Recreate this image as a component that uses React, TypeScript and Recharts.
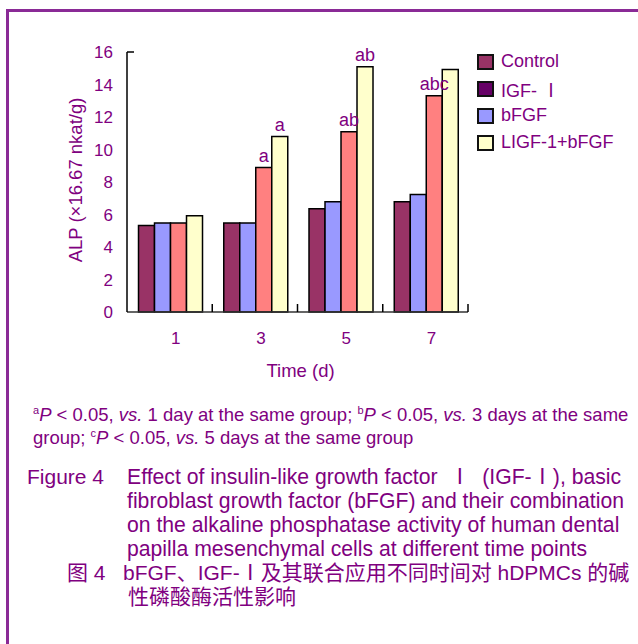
import React from 'react';
import { BarChart, Bar, XAxis, YAxis, Legend, LabelList } from 'recharts';

const days = ['1', '3', '5', '7'];
const controlValues = [5.32, 5.48, 6.35, 6.78];
const blueValues = [5.48, 5.48, 6.78, 7.23];
const salmonValues = [5.48, 8.89, 11.09, 13.31];
const combinedValues = [5.92, 10.8, 15.1, 14.93];
const salmonMarks = ['', 'a', 'ab', 'abc'];
const combinedMarks = ['', 'a', 'ab', ''];
const yTicks = [0, 2, 4, 6, 8, 10, 12, 14, 16];
const legendNames = ['Control', 'IGF- Ⅰ', 'bFGF', 'LIGF-1+bFGF'];
const legendColors = ['#993366', '#660066', '#9999FF', '#FFFFCC'];
const barColors = ['#993366', '#9999FF', '#FF8080', '#FFFFCC'];

const PURPLE = '#800080';
const FONT = '"Liberation Sans", Arial, "Noto Sans CJK SC", sans-serif';

const data = days.map((d, i) => ({
  day: d,
  control: controlValues[i],
  blue: blueValues[i],
  salmon: salmonValues[i],
  combined: combinedValues[i],
  salmonMark: salmonMarks[i],
  combinedMark: combinedMarks[i],
}));

const YTick = (props: any) => {
  const { x, y, payload } = props;
  const isTop = payload.value === yTicks[yTicks.length - 1];
  return (
    <g>
      <text x={x} y={y} dy="0.355em" textAnchor="end" fontSize={17} fill={PURPLE} fontFamily={FONT}>
        {payload.value}
      </text>
      {isTop && <line x1={x + 14} x2={x + 21} y1={y} y2={y} stroke="#000" strokeWidth={1.5} />}
    </g>
  );
};

const XTick = (props: any) => {
  const { x, y, payload } = props;
  const half = typeof payload.offset === 'number' && payload.offset > 0 ? payload.offset : 42.6;
  return (
    <g>
      <text x={x + 6} y={y + 26} dy="0.355em" textAnchor="middle" fontSize={17} fill={PURPLE} fontFamily={FONT}>
        {payload.value}
      </text>
      <line x1={x + half} x2={x + half} y1={y} y2={y - 8} stroke="#000" strokeWidth={1.5} />
    </g>
  );
};

const YLabel = (props: any) => {
  const vb = props.viewBox || { x: 0, y: 52, width: 127, height: 260 };
  const cx = vb.x + 75;
  const cy = vb.y + vb.height / 2 - 2;
  return (
    <text
      x={cx}
      y={cy}
      dy="0.355em"
      textAnchor="middle"
      transform={`rotate(-90, ${cx}, ${cy})`}
      fontSize={18.5}
      fill={PURPLE}
      fontFamily={FONT}
    >
      ALP (×16.67 nkat/g)
    </text>
  );
};

const XLabel = (props: any) => {
  const vb = props.viewBox || { x: 127, y: 312, width: 341, height: 88 };
  const cx = vb.x + vb.width / 2 + 3;
  const cy = vb.y + 58;
  return (
    <text x={cx} y={cy} dy="0.355em" textAnchor="middle" fontSize={18.5} fill={PURPLE} fontFamily={FONT}>
      Time (d)
    </text>
  );
};

const renderLegend = () => (
  <div style={{ display: 'flex', flexDirection: 'column', fontFamily: FONT }}>
    {legendNames.map((n, i) => (
      <div key={n} style={{ display: 'flex', alignItems: 'center', height: 27 }}>
        <span
          style={{
            display: 'inline-block',
            width: 17,
            height: 16,
            boxSizing: 'border-box',
            background: legendColors[i],
            border: '2px solid #111',
          }}
        />
        <span style={{ marginLeft: 7, fontSize: 18, color: PURPLE, whiteSpace: 'nowrap' }}>{n}</span>
      </div>
    ))}
  </div>
);

const sup = { fontSize: 11, verticalAlign: 'super' as const, lineHeight: 0 };

export default function App() {
  return (
    <div
      style={{
        position: 'absolute',
        left: 0,
        top: 0,
        width: 638,
        height: 644,
        background: '#fff',
        overflow: 'hidden',
        fontFamily: FONT,
        color: PURPLE,
      }}
    >
      <div
        style={{
          position: 'absolute',
          left: 6,
          top: 9,
          right: -10,
          bottom: -10,
          borderLeft: '3px solid #8a2a96',
          borderTop: '3px solid #8a2a96',
        }}
      />
      <div style={{ position: 'absolute', left: 0, top: 0 }}>
        <BarChart
          width={638}
          height={400}
          data={data}
          margin={{ top: 52, right: 170, bottom: 0, left: 0 }}
          barCategoryGap="13.5%"
          barGap={0}
        >
          <XAxis
            dataKey="day"
            height={88}
            tickSize={0}
            tickMargin={0}
            tickLine={false}
            axisLine={{ stroke: '#333', strokeWidth: 1.5 }}
            tick={XTick}
            interval={0}
            label={XLabel}
          />
          <YAxis
            width={127}
            domain={[0, 16]}
            ticks={yTicks}
            tickSize={0}
            tickMargin={14}
            tickLine={false}
            axisLine={{ stroke: '#000', strokeWidth: 1.5 }}
            tick={YTick}
            interval={0}
            label={YLabel}
          />
          <Legend
            layout="vertical"
            align="center"
            verticalAlign="middle"
            content={renderLegend}
            wrapperStyle={{ position: 'absolute', left: 477, top: 48, width: 160, height: 110 }}
          />
          <Bar dataKey="control" fill={barColors[0]} stroke="#000" strokeWidth={1.5} isAnimationActive={false} />
          <Bar dataKey="blue" fill={barColors[1]} stroke="#000" strokeWidth={1.5} isAnimationActive={false} />
          <Bar dataKey="salmon" fill={barColors[2]} stroke="#000" strokeWidth={1.5} isAnimationActive={false}>
            <LabelList dataKey="salmonMark" position="top" offset={6} fill={PURPLE} fontSize={18} fontFamily={FONT} />
          </Bar>
          <Bar dataKey="combined" fill={barColors[3]} stroke="#000" strokeWidth={1.5} isAnimationActive={false}>
            <LabelList dataKey="combinedMark" position="top" offset={6} fill={PURPLE} fontSize={18} fontFamily={FONT} />
          </Bar>
        </BarChart>
      </div>

      <div
        style={{
          position: 'absolute',
          left: 33,
          top: 403,
          fontSize: 18.5,
          lineHeight: '23px',
          whiteSpace: 'nowrap',
        }}
      >
        <div>
          <span style={sup}>a</span>
          <i>P</i> &lt; 0.05, <i>vs.</i> 1 day at the same group; <span style={sup}>b</span>
          <i>P</i> &lt; 0.05, <i>vs.</i> 3 days at the same
        </div>
        <div>
          group; <span style={sup}>c</span>
          <i>P</i> &lt; 0.05, <i>vs.</i> 5 days at the same group
        </div>
      </div>

      <div style={{ position: 'absolute', left: 27, top: 465, fontSize: 21, lineHeight: '24px', whiteSpace: 'nowrap' }}>
        Figure 4
      </div>
      <div
        style={{ position: 'absolute', left: 127, top: 465, fontSize: 21.2, lineHeight: '24px', whiteSpace: 'nowrap' }}
      >
        <div>Effect of insulin-like growth factor &nbsp;Ⅰ&nbsp; (IGF-Ⅰ), basic</div>
        <div>fibroblast growth factor (bFGF) and their combination</div>
        <div>on the alkaline phosphatase activity of human dental</div>
        <div>papilla mesenchymal cells at different time points</div>
      </div>

      <div style={{ position: 'absolute', left: 67, top: 561, fontSize: 21, lineHeight: '24px', whiteSpace: 'nowrap' }}>
        图 4
      </div>
      <div
        style={{ position: 'absolute', left: 123, top: 561, fontSize: 21, lineHeight: '24px', whiteSpace: 'nowrap' }}
      >
        <div>bFGF、IGF-Ⅰ及其联合应用不同时间对 hDPMCs 的碱</div>
        <div style={{ paddingLeft: 5 }}>性磷酸酶活性影响</div>
      </div>
    </div>
  );
}
